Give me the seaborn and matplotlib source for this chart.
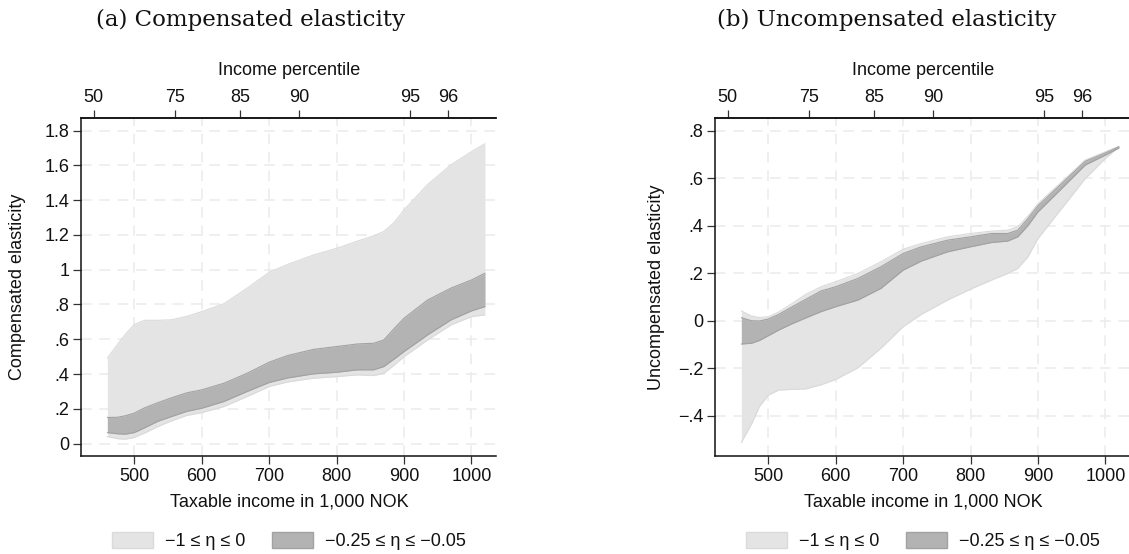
import matplotlib
matplotlib.use("Agg")
import matplotlib.pyplot as plt
from matplotlib.patches import Patch
import pandas as pd
import seaborn as sns

# Taxable income grid (1,000 NOK)
income = [460, 475, 487, 500, 515, 535, 555, 578, 600, 633, 667, 700, 727, 766,
          800, 831, 855, 870, 885, 900, 935, 970, 1000, 1020]

# (a) Compensated elasticity: bounds for each range of the income effect
comp_wide_lo = [0.040, 0.028, 0.025, 0.035, 0.060, 0.098, 0.130, 0.162, 0.178, 0.213, 0.270, 0.328,
                0.354, 0.376, 0.385, 0.395, 0.391, 0.404, 0.450, 0.500, 0.596, 0.683, 0.730, 0.740]
comp_wide_hi = [0.491, 0.570, 0.630, 0.685, 0.709, 0.709, 0.712, 0.732, 0.759, 0.805, 0.893, 0.985,
                1.030, 1.085, 1.123, 1.165, 1.195, 1.220, 1.270, 1.344, 1.490, 1.605, 1.679, 1.725]
comp_narrow_lo = [0.063, 0.056, 0.054, 0.063, 0.090, 0.128, 0.155, 0.185, 0.203, 0.242, 0.299, 0.351,
                  0.377, 0.401, 0.410, 0.424, 0.424, 0.443, 0.485, 0.529, 0.625, 0.712, 0.763, 0.788]
comp_narrow_hi = [0.150, 0.151, 0.160, 0.175, 0.205, 0.235, 0.263, 0.292, 0.309, 0.347, 0.404, 0.468,
                  0.506, 0.542, 0.558, 0.573, 0.577, 0.596, 0.660, 0.721, 0.826, 0.895, 0.941, 0.980]

# (b) Uncompensated elasticity
unc_wide_lo = [-0.512, -0.435, -0.360, -0.313, -0.292, -0.289, -0.287, -0.270, -0.247, -0.198, -0.116, -0.025,
               0.027, 0.087, 0.133, 0.171, 0.199, 0.220, 0.269, 0.346, 0.472, 0.598, 0.683, 0.732]
unc_wide_hi = [0.041, 0.020, 0.013, 0.017, 0.036, 0.072, 0.110, 0.143, 0.164, 0.199, 0.248, 0.301,
               0.325, 0.353, 0.367, 0.377, 0.381, 0.395, 0.440, 0.493, 0.584, 0.676, 0.711, 0.734]
unc_narrow_lo = [-0.098, -0.095, -0.083, -0.063, -0.040, -0.013, 0.011, 0.038, 0.059, 0.087, 0.136, 0.213,
                 0.251, 0.290, 0.311, 0.329, 0.335, 0.353, 0.400, 0.458, 0.556, 0.655, 0.697, 0.727]
unc_narrow_hi = [0.013, 0.000, -0.001, 0.007, 0.026, 0.058, 0.089, 0.125, 0.143, 0.178, 0.227, 0.283,
                 0.311, 0.339, 0.353, 0.367, 0.367, 0.381, 0.430, 0.484, 0.577, 0.671, 0.706, 0.732]

# Income percentiles and their income levels (top axis)
pct_labels = ["50", "75", "85", "90", "95", "96"]
pct_income = [440, 560, 657, 744.5, 909, 965]

x_ticks = [500, 600, 700, 800, 900, 1000]
comp_yticks = [0, 0.2, 0.4, 0.6, 0.8, 1.0, 1.2, 1.4, 1.6, 1.8]
unc_yticks = [-0.4, -0.2, 0, 0.2, 0.4, 0.6, 0.8]

titles = ["(a) Compensated elasticity", "(b) Uncompensated elasticity"]
ylabels = ["Compensated elasticity", "Uncompensated elasticity"]
xlabel = "Taxable income in 1,000 NOK"
toplabel = "Income percentile"
legend_labels = ["\u22121 \u2264 \u03b7 \u2264 0", "\u22120.25 \u2264 \u03b7 \u2264 \u22120.05"]

WIDE_FILL, WIDE_EDGE = "#e4e4e4", "#dadada"
NARROW_FILL, NARROW_EDGE = "#b3b3b3", "#a2a2a2"
GRID = "#ebebeb"

sns.set_theme(style="white")
SANS = ["Liberation Sans", "DejaVu Sans"]
plt.rcParams["font.family"] = SANS
plt.rcParams["axes.unicode_minus"] = True
FS = 13


def stata_fmt(v):
    if abs(v) < 1e-9:
        return "0"
    s = f"{abs(v):g}"
    if s.startswith("0."):
        s = s[1:]
    return ("\u2212" if v < 0 else "") + s


fig = plt.figure(figsize=(11.29, 5.54), dpi=100)
W, H = 1129, 554

panels = [
    dict(left=81.4, ylim=(-0.07, 1.873), yticks=comp_yticks,
         bands=(comp_wide_lo, comp_wide_hi, comp_narrow_lo, comp_narrow_hi),
         ylab_x=-0.134, title_x=251),
    dict(left=715.4, ylim=(-0.568, 0.853), yticks=unc_yticks,
         bands=(unc_wide_lo, unc_wide_hi, unc_narrow_lo, unc_narrow_hi),
         ylab_x=-0.122, title_x=887),
]

ax_w, ax_top, ax_bot = 415, 118, 455.7

for i, p in enumerate(panels):
    ax = fig.add_axes([p["left"] / W, 1 - ax_bot / H, ax_w / W, (ax_bot - ax_top) / H])
    wlo, whi, nlo, nhi = p["bands"]
    df = pd.DataFrame({"income": income, "wlo": wlo, "whi": whi, "nlo": nlo, "nhi": nhi})

    ax.fill_between(df["income"], df["wlo"], df["whi"], color=WIDE_FILL, lw=0, zorder=2)
    for col in ("wlo", "whi"):
        sns.lineplot(data=df, x="income", y=col, ax=ax, color=WIDE_EDGE, lw=0.8, zorder=2.1)
    ax.fill_between(df["income"], df["nlo"], df["nhi"], color=NARROW_FILL, lw=0, zorder=3)
    for col in ("nlo", "nhi"):
        sns.lineplot(data=df, x="income", y=col, ax=ax, color=NARROW_EDGE, lw=0.8, zorder=3.1)

    ax.set_xlim(421.5, 1037)
    ax.set_ylim(*p["ylim"])
    ax.set_xticks(x_ticks)
    ax.set_xticklabels([str(t) for t in x_ticks], fontsize=FS)
    ax.set_yticks(p["yticks"])
    ax.set_yticklabels([stata_fmt(v) for v in p["yticks"]], fontsize=FS)
    ax.tick_params(axis="both", direction="out", length=5.5, width=0.9, color="#333333",
                   pad=3, labelcolor="#111111", bottom=True, left=True)
    ax.grid(True, color=GRID, lw=1.1, ls=(0, (7, 5)), zorder=0)
    ax.set_axisbelow(True)
    for side in ("left", "bottom", "top"):
        ax.spines[side].set_visible(True)
        ax.spines[side].set_color("#111111")
        ax.spines[side].set_linewidth(1.1)
    ax.spines["right"].set_visible(False)

    ax.set_xlabel(xlabel, fontsize=FS, color="#111111")
    ax.xaxis.set_label_coords(0.5, -0.111)
    ax.set_ylabel(ylabels[i], fontsize=FS, color="#111111")
    ax.yaxis.set_label_coords(p["ylab_x"], 0.5)

    top = ax.twiny()
    top.set_xlim(ax.get_xlim())
    top.set_xticks(pct_income)
    top.set_xticklabels(pct_labels, fontsize=FS)
    top.tick_params(axis="x", direction="out", length=5.5, width=0.9, color="#333333",
                    pad=3, labelcolor="#111111", top=True)
    top.grid(False)
    for side in ("right", "left", "bottom"):
        top.spines[side].set_visible(False)
    top.spines["top"].set_color("#111111")
    top.spines["top"].set_linewidth(1.1)
    top.set_xlabel(toplabel, fontsize=FS, color="#111111")
    top.xaxis.set_label_coords(0.5, 1.126)

    handles = [Patch(facecolor=WIDE_FILL, edgecolor=WIDE_EDGE, lw=1.0),
               Patch(facecolor=NARROW_FILL, edgecolor=NARROW_EDGE, lw=1.0)]
    ax.legend(handles, legend_labels, loc="center", bbox_to_anchor=(0.5, -(541 - ax_bot) / (ax_bot - ax_top)),
              ncol=2, frameon=False, fontsize=FS, handlelength=2.3, handleheight=1.0,
              handletextpad=0.65, columnspacing=1.45, labelcolor="#111111")

    fig.text(p["title_x"] / W, 1 - 20 / H, titles[i], ha="center", va="center",
             fontsize=16.5, family=["DejaVu Serif"], color="#111111")

fig.savefig("out.png", dpi=100)
